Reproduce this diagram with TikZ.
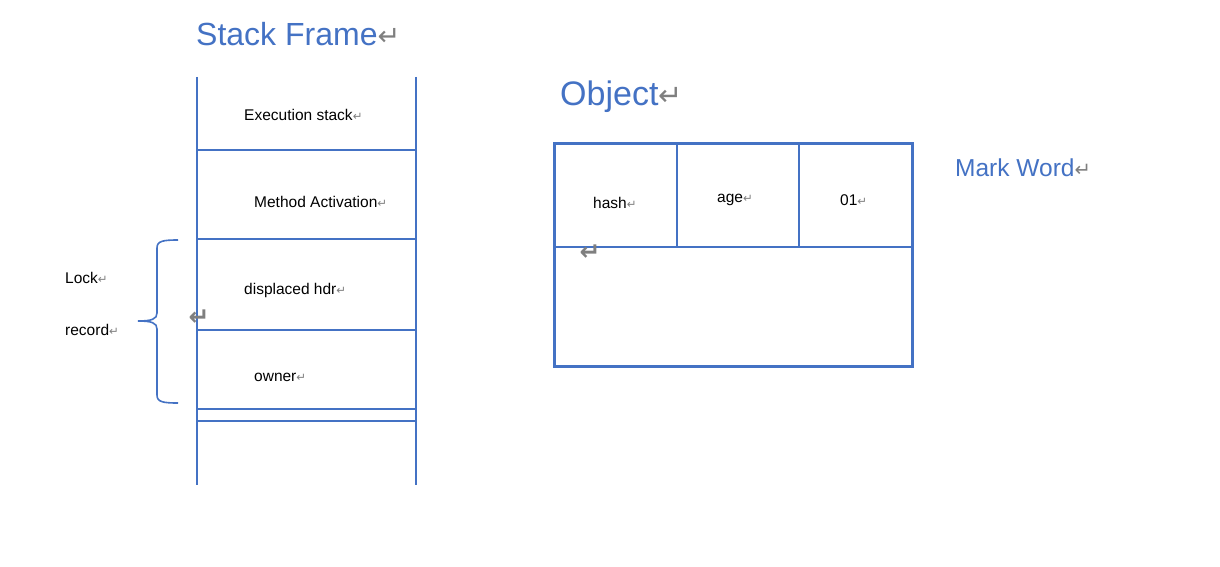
\documentclass[tikz,border=0pt]{standalone}
\usepackage{fontspec}
\setmainfont{Liberation Sans}
\newfontfamily\symfont{DejaVu Sans}
\definecolor{lineblue}{HTML}{4472C4}
\definecolor{markgray}{HTML}{7F7F7F}
\newcommand{\retmark}[1]{{\color{markgray}\symfont\scalebox{#1}{↵}}}
\newcommand{\boldretmark}[1]{{\color{markgray}\symfont\bfseries\scalebox{#1}{↵}}}
\tikzset{
  frameline/.style={draw=lineblue, line width=2pt},
  boxline/.style={draw=lineblue, line width=3pt},
  title/.style={anchor=west, inner sep=0pt, text=lineblue, font=\fontsize{32}{36}\selectfont},
  label/.style={anchor=west, inner sep=0pt, text=black, font=\fontsize{15.5}{18}\selectfont},
  loose/.style={inner sep=0pt, font=\fontsize{20}{24}\selectfont}
}
\begin{document}
\begin{tikzpicture}[x=1pt,y=-1pt]
\useasboundingbox (0,0) rectangle (1220,567);
\fill[white] (0,0) rectangle (1220,567);

% Stack frame
\draw[frameline] (197,77) -- (197,485);
\draw[frameline] (416,77) -- (416,485);
\foreach \yy in {150,239,330,409,421} {
  \draw[frameline] (197,\yy) -- (416,\yy);
}
\node[title] (sftitle) at (196,34) {Stack Frame\retmark{0.85}};
\node[label] (exec) at (244,115) {Execution stack\retmark{0.75}};
\node[label] (method) at (254,202) {Method Activation\retmark{0.75}};
\node[label] (disp) at (244,290) {displaced hdr\retmark{0.75}};
\node[label] (owner) at (254,377) {owner\retmark{0.75}};

% Brace
\draw[frameline, line width=1.6pt]
  (178,240) .. controls (163,240) and (157,241) .. (157,248) -- (157,313)
  .. controls (157,319) and (152,321) .. (138,321)
  .. controls (152,321) and (157,323) .. (157,329) -- (157,395)
  .. controls (157,402) and (163,403) .. (178,403);
\node[label] (lock) at (65,278) {Lock\retmark{0.75}};
\node[label] (record) at (65,330) {record\retmark{0.75}};
\node[loose] (mark1) at (199,318) {\boldretmark{1.25}};

% Object
\node[title, font=\fontsize{34}{38}\selectfont] (objtitle) at (560,97) {Object\retmark{0.85}};
\draw[frameline] (554,247) -- (912,247);
\draw[frameline] (677,143) -- (677,247);
\draw[frameline] (799,143) -- (799,247);
\draw[boxline] (554,143) rectangle (912,366);
\node[label] (hash) at (593,203) {hash\retmark{0.75}};
\node[label] (age) at (717,200) {age\retmark{0.75}};
\node[label] (bits) at (840,200) {01\retmark{0.75}};
\node[loose] (mark2) at (590,253) {\boldretmark{1.25}};

\node[title, font=\fontsize{24.5}{28}\selectfont] (mw) at (955,168) {Mark Word\retmark{0.8}};
\end{tikzpicture}
\end{document}
